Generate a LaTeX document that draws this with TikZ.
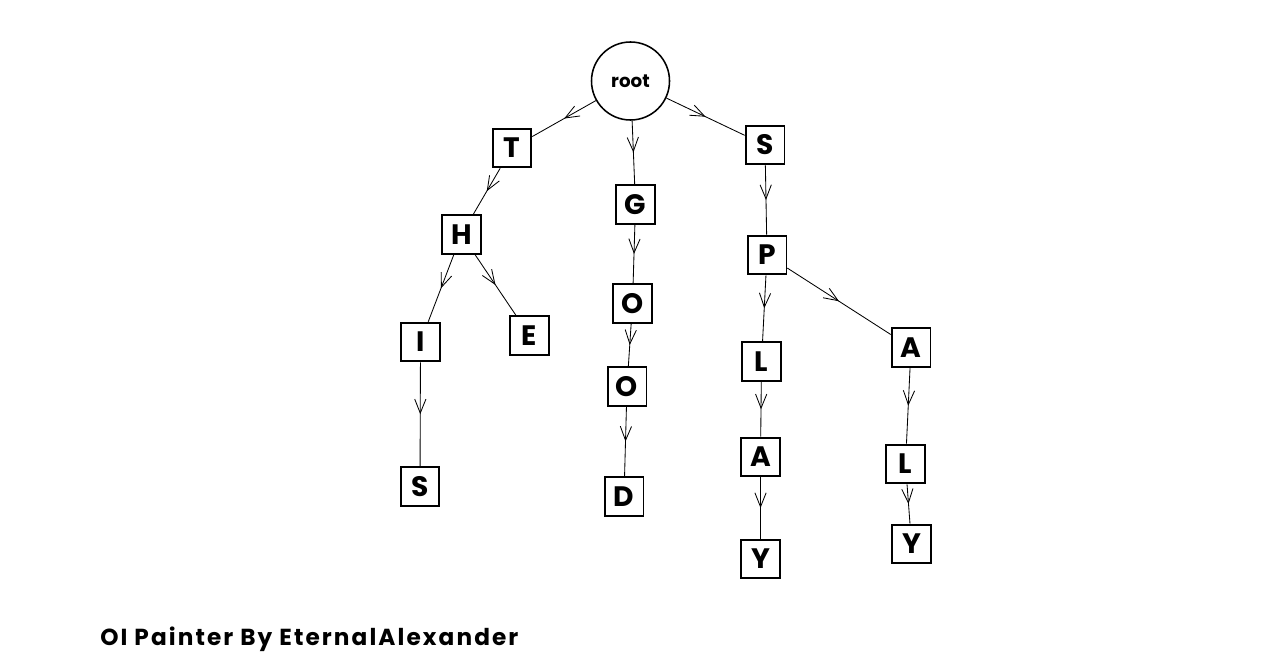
\documentclass[tikz,border=0pt]{standalone}
\usepackage{fontspec}
\newfontfamily\treefont{Poppins}
\newfontfamily\creditfont{Poppins}[LetterSpace=9]
\usetikzlibrary{arrows.meta,decorations.markings}
\begin{document}
\begin{tikzpicture}[x=0.025cm,y=-0.025cm,
    letter/.style={draw,line width=1.3pt,minimum size=0.97cm,inner sep=0pt,
      font=\treefont\bfseries\fontsize{20}{20}\selectfont},
    rootnode/.style={circle,draw,line width=1.1pt,minimum size=1.95cm,inner sep=0pt,
      font=\treefont\bfseries\fontsize{13}{13}\selectfont},
    link/.style={line width=0.6pt,postaction={decorate},
      decoration={markings,mark=at position 0.5 with {\arrow{Straight Barb[length=10pt,width=8pt]}}}}]
      \useasboundingbox (0,0) rectangle (1280,657);
      \draw
        (630.5,81) node[rootnode] (root){root}
        (512,148) node[letter] (t){T}
        (461.5,234.5) node[letter] (th){H}
        (420.5,342) node[letter] (thi){I}
        (529.5,335.5) node[letter] (the){E}
        (420,486.5) node[letter] (this){S}
        (635.5,204.5) node[letter] (g){G}
        (632.5,303.5) node[letter] (go){O}
        (627,386.5) node[letter] (goo){O}
        (624,496.5) node[letter] (good){D}
        (765,145) node[letter] (s){S}
        (767,255) node[letter] (sp){P}
        (761.5,361.5) node[letter] (spl){L}
        (760.5,457) node[letter] (spla){A}
        (760.5,559) node[letter] (splay){Y}
        (911,347.5) node[letter] (spa){A}
        (905.5,464) node[letter] (spal){L}
        (911.5,544) node[letter] (spaly){Y};
      \begin{scope}[-]
        \draw[link] (root) to (t);
        \draw[link] (root) to (g);
        \draw[link] (root) to (s);
        \draw[link] (t) to (th);
        \draw[link] (th) to (thi);
        \draw[link] (th) to (the);
        \draw[link] (thi) to (this);
        \draw[link] (g) to (go);
        \draw[link] (go) to (goo);
        \draw[link] (goo) to (good);
        \draw[link] (s) to (sp);
        \draw[link] (sp) to (spl);
        \draw[link] (spl) to (spla);
        \draw[link] (spla) to (splay);
        \draw[link] (sp) to (spa);
        \draw[link] (spa) to (spal);
        \draw[link] (spal) to (spaly);
      \end{scope}
      \node[anchor=base west,inner sep=0pt,font=\creditfont\bfseries\fontsize{16.5}{16.5}\selectfont]
        (credit) at (100,645) {OI Painter By EternalAlexander};
    \end{tikzpicture}
\end{document}
